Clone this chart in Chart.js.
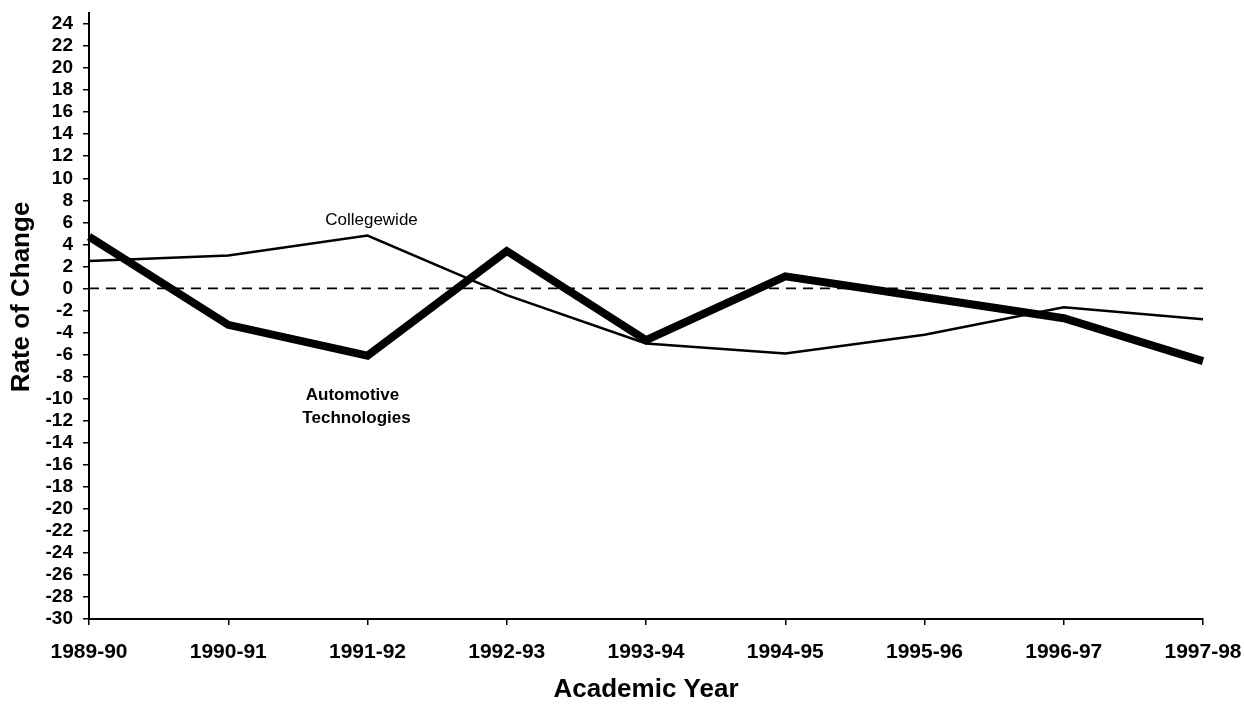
<!DOCTYPE html>
<html><head><meta charset="utf-8">
<script src="https://cdn.jsdelivr.net/npm/chart.js@4"></script>
<style>html,body{margin:0;padding:0;background:#fff}#wrap{width:1244px;height:710px;position:relative}</style>
</head><body><div id="wrap"><canvas id="c"></canvas></div>
<script>
const years = ['1989-90','1990-91','1991-92','1992-93','1993-94','1994-95','1995-96','1996-97','1997-98'];
const collegewide = [2.5, 3.0, 4.8, -0.6, -5.0, -5.9, -4.2, -1.7, -2.8];
const automotive = [4.7, -3.3, -6.1, 3.4, -4.7, 1.1, -0.8, -2.7, -6.6];
const zeroLine = [0, 0, 0, 0, 0, 0, 0, 0, 0];
const yTickValues = [24,22,20,18,16,14,12,10,8,6,4,2,0,-2,-4,-6,-8,-10,-12,-14,-16,-18,-20,-22,-24,-26,-28,-30];

const FONT = "'Liberation Sans', Arial, sans-serif";

const annot = {
  id: 'annot',
  afterDraw(chart) {
    const {ctx, scales: {x, y}} = chart;
    ctx.save();
    ctx.fillStyle = '#000';
    ctx.textAlign = 'center';
    ctx.textBaseline = 'middle';
    ctx.font = `17px ${FONT}`;
    ctx.fillText('Collegewide', x.getPixelForValue(2) + 4, y.getPixelForValue(6.2));
    ctx.font = `bold 17px ${FONT}`;
    ctx.fillText('Automotive', x.getPixelForValue(2) - 15, y.getPixelForValue(-9.7));
    ctx.fillText('Technologies', x.getPixelForValue(2) - 11, y.getPixelForValue(-11.8));
    ctx.translate(22, 297);
    ctx.rotate(-Math.PI / 2);
    ctx.font = `bold 26px ${FONT}`;
    ctx.fillText('Rate of Change', 0, 0);
    ctx.restore();
  }
};

const axisGrid = {display: true, drawOnChartArea: false, drawTicks: true, tickLength: 6, color: '#000', lineWidth: 1.5};
const axisBorder = {display: true, color: '#000', width: 2};

new Chart(document.getElementById('c'), {
  type: 'line',
  data: {
    labels: years,
    datasets: [
      {label: 'Automotive Technologies', data: automotive, borderColor: '#000', borderWidth: 8, pointRadius: 0, tension: 0, borderJoinStyle: 'miter', fill: false, clip: false},
      {label: 'Collegewide', data: collegewide, borderColor: '#000', borderWidth: 2.5, pointRadius: 0, tension: 0, fill: false, clip: false},
      {label: 'zero', data: zeroLine, borderColor: '#000', borderWidth: 1.8, borderDash: [10, 7], pointRadius: 0, tension: 0, fill: false}
    ]
  },
  options: {
    responsive: true, maintainAspectRatio: false, animation: false,
    layout: {padding: {left: 0, right: 41, top: 13, bottom: 0}},
    plugins: {legend: {display: false}, tooltip: {enabled: false}},
    scales: {
      x: {
        type: 'category', offset: false,
        grid: axisGrid, border: axisBorder,
        ticks: {color: '#000', font: {family: FONT, size: 21, weight: 'bold'}, padding: 15, maxRotation: 0, autoSkip: false},
        title: {display: true, text: 'Academic Year', color: '#000', font: {family: FONT, size: 26, weight: 'bold'}, padding: {top: 0, bottom: 5}},
        afterFit(s) { s.height = 91; s.paddingLeft = 0; s.paddingRight = 0; }
      },
      y: {
        min: -30, max: 25,
        afterBuildTicks(s) { s.ticks = yTickValues.map(v => ({value: v})); },
        grid: axisGrid, border: axisBorder,
        ticks: {color: '#000', font: {family: FONT, size: 19, weight: 'bold'}, padding: 10, autoSkip: false},
        afterFit(s) { s.width = 89; s.paddingTop = 0; s.paddingBottom = 0; }
      }
    }
  },
  plugins: [annot]
});
</script></body></html>
